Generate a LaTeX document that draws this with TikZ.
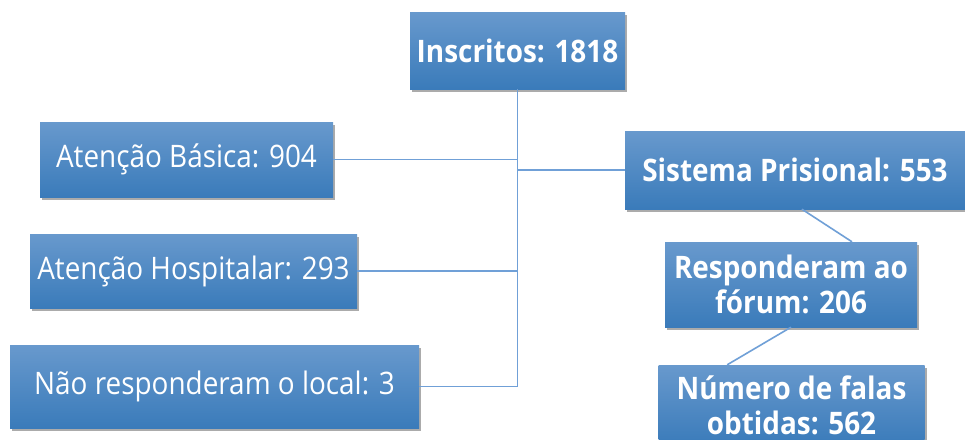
\documentclass[tikz,border=0pt]{standalone}
\usepackage{fontspec}
\setmainfont{Open Sans}[FakeStretch=0.9]
\usepackage{tikz}
\usetikzlibrary{positioning,calc,shadows}
\definecolor{boxtop}{RGB}{104,153,205}
\definecolor{boxbot}{RGB}{58,123,186}
\definecolor{linkcol}{RGB}{112,160,215}
\tikzstyle{box}=[rectangle,top color=boxtop,bottom color=boxbot,draw=none,text=white,
  drop shadow={shadow xshift=2pt,shadow yshift=-3pt,fill=black!55,opacity=.6},
  align=center,inner sep=0pt,font=\fontsize{31}{35}\selectfont]
\tikzstyle{boldbox}=[box,font=\fontsize{31}{35}\selectfont\bfseries]
\tikzstyle{link}=[draw=linkcol,line width=1.6pt]

\begin{document}
\begin{tikzpicture}[x=1pt,y=-1pt]
\useasboundingbox[fill=white] (0,0) rectangle (965,439);
\node [boldbox,minimum width=215pt,minimum height=77pt] (ins) at (517.5,50.5) {Inscritos: 1818};
\node [box,minimum width=293pt,minimum height=75pt] (bas) at (186.5,159.5) {Atenção Básica: 904};
\node [box,minimum width=327pt,minimum height=74pt] (hos) at (193.5,271) {Atenção Hospitalar: 293};
\node [box,minimum width=409pt,minimum height=83pt] (nao) at (214.5,386.5) {Não responderam o local: 3};
\node [boldbox,minimum width=340pt,minimum height=78pt] (sis) at (795,170) {Sistema Prisional: 553};
\node [boldbox,minimum width=252pt,minimum height=85pt] (res) at (791,284.5) {Responderam ao\\fórum: 206};
\node [boldbox,minimum width=266pt,minimum height=80pt] (num) at (791.5,405) {Número de falas\\obtidas: 562};
% trunk
\draw [link] (ins.south) -- (ins.south |- nao.east) -- (nao.east);
\draw [link] (bas.east) -- (bas.east -| ins.south);
\draw [link] (hos.east) -- (hos.east -| ins.south);
\draw [link] (sis.west) -- (sis.west -| ins.south);
% prison branch
\draw [link] (sis.280) -- (res.35);
\draw [link] (res.south) -- (num.148);
\end{tikzpicture}
\end{document}
